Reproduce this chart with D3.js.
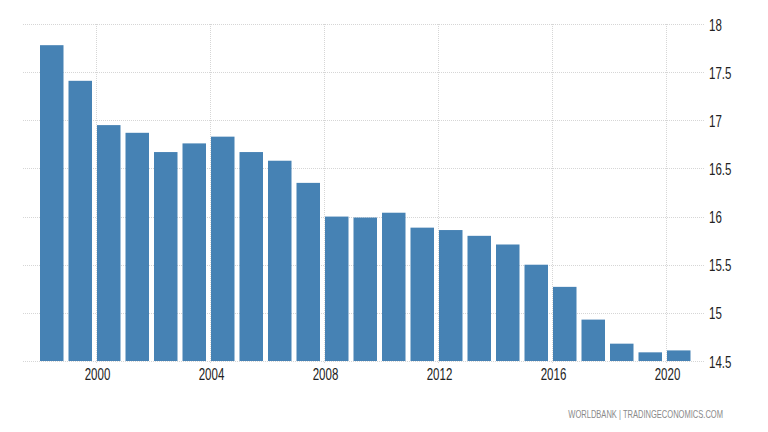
<!DOCTYPE html>
<html>
<head>
<meta charset="utf-8">
<script src="https://cdn.jsdelivr.net/npm/d3@7"></script>
<style>
  html, body { margin: 0; padding: 0; background: #fff; }
  svg { display: block; }
  text { font-family: "Liberation Sans", Arial, sans-serif; }
</style>
</head>
<body>
<svg id="chart" width="768" height="432"></svg>
<script>
const years = [1998,1999,2000,2001,2002,2003,2004,2005,2006,2007,2008,2009,2010,2011,2012,2013,2014,2015,2016,2017,2018,2019,2020];
const values = [17.78,17.41,16.95,16.87,16.67,16.76,16.83,16.67,16.58,16.35,16.00,15.99,16.04,15.885,15.86,15.80,15.71,15.50,15.27,14.93,14.68,14.59,14.61];
const yTicks = [14.5,15,15.5,16,16.5,17,17.5,18];
const xTickYears = [2000,2004,2008,2012,2016,2020];
const sourceText = "WORLDBANK | TRADINGECONOMICS.COM";

(function () {
const svg = d3.select("#chart");
const pLeft = 23, pRight = 704, pTop = 24, pBottom = 361;
const narrow = 0.72;

const x = d3.scaleLinear().domain([1998, 2020]).range([40, 667]);
const step = x(1999) - x(1998);
const y = d3.scaleLinear().domain([14.5, 18]).range([pBottom, pTop]);

// horizontal grid
svg.append("g").selectAll("line").data(yTicks).join("line")
  .attr("x1", pLeft).attr("x2", pRight)
  .attr("y1", d => Math.round(y(d)) + 0.5).attr("y2", d => Math.round(y(d)) + 0.5)
  .attr("stroke", "#d6d6d6").attr("stroke-width", 1).attr("stroke-dasharray", "1,1");

// vertical grid
svg.append("g").selectAll("line").data(xTickYears).join("line")
  .attr("x1", d => Math.round(x(d)) - 0.5).attr("x2", d => Math.round(x(d)) - 0.5)
  .attr("y1", pTop).attr("y2", pBottom + 3)
  .attr("stroke", "#d6d6d6").attr("stroke-width", 1).attr("stroke-dasharray", "1,1");

// bars
svg.append("g").selectAll("rect").data(years).join("rect")
  .attr("x", (d) => x(d))
  .attr("width", step - 5)
  .attr("y", (d, i) => y(values[i]))
  .attr("height", (d, i) => y(14.5) - y(values[i]))
  .attr("fill", "#4682b4");

// y axis labels (right)
const yAxis = d3.axisRight(y).tickValues(yTicks).tickSize(0).tickPadding(0)
  .tickFormat(d => d3.format("")(d));
const gy = svg.append("g").attr("transform", `translate(${pRight + 5},1)`).call(yAxis);
gy.select(".domain").remove();
gy.selectAll("text").attr("font-size", 16).attr("fill", "#222")
  .attr("transform", `scale(${narrow},1)`)
  .style("font-family", '"Liberation Sans", Arial, sans-serif');

// x axis labels
const xAxis = d3.axisBottom(x).tickValues(xTickYears).tickSize(0).tickPadding(0)
  .tickFormat(d3.format("d"));
const gx = svg.append("g").attr("transform", `translate(0,${pBottom + 8})`).call(xAxis);
gx.select(".domain").remove();
gx.selectAll("text").attr("font-size", 16).attr("fill", "#222")
  .attr("transform", `scale(${narrow},1)`)
  .style("font-family", '"Liberation Sans", Arial, sans-serif');

// source
svg.append("g").attr("transform", "translate(723,418)")
  .append("text").attr("text-anchor", "end").attr("transform", `scale(${narrow},1)`)
  .attr("font-size", 10.5).attr("fill", "#8a8a8a").text(sourceText);
})();
</script>
</body>
</html>
